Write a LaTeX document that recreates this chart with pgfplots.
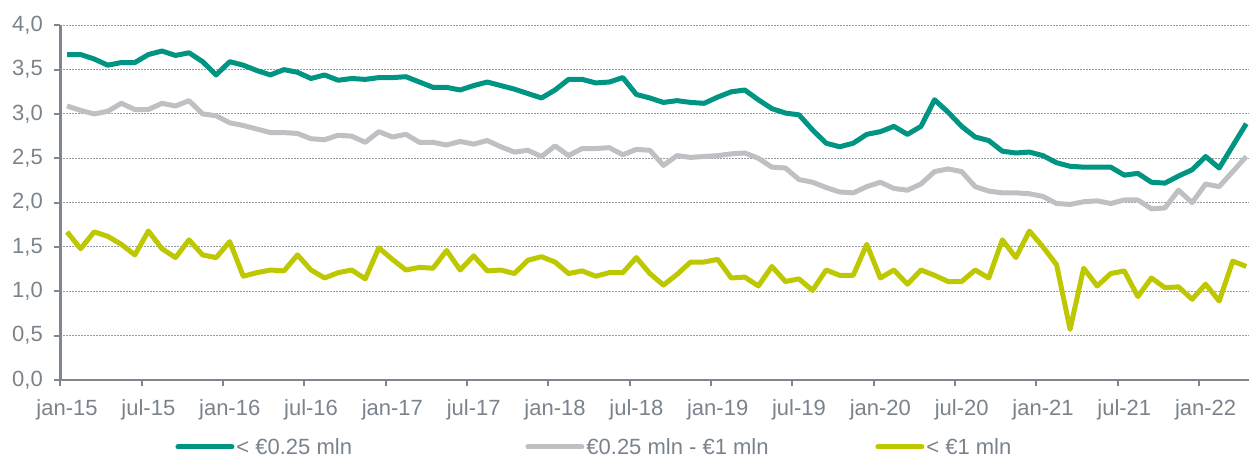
\documentclass[border=0pt]{standalone}
\usepackage{pgfplots}
\pgfplotsset{compat=1.18}
\usepackage{fontspec}
\setmainfont{Liberation Sans}
\definecolor{teal1}{RGB}{0,148,131}
\definecolor{gray1}{RGB}{190,192,195}
\definecolor{yel1}{RGB}{190,200,0}
\definecolor{txtgray}{RGB}{122,131,140}
\definecolor{axgray}{RGB}{128,134,141}
\definecolor{gridgray}{RGB}{150,156,162}
\begin{document}
\begin{tikzpicture}
\begin{axis}[
  scale only axis,
  width=1188.9pt, height=354.7pt,
  xmin=-0.5, xmax=87.2, ymin=0, ymax=4,
  axis lines*=left,
  axis line style={draw=axgray, line width=2.5pt},
  clip=true,
  ytick={0,0.5,...,4},
  ymajorgrids,
  grid style={draw=gridgray, line width=1pt, dash pattern=on 1.5pt off 1.5pt},
  xtick={-0.5,5.5,...,83.5},
  xticklabels={},
  extra x ticks={0,6,...,84},
  extra x tick labels={jan-15,jul-15,jan-16,jul-16,jan-17,jul-17,jan-18,jul-18,jan-19,jul-19,jan-20,jul-20,jan-21,jul-21,jan-22},
  extra x tick style={major tick length=0pt, grid=none},
  tick align=outside,
  major tick length=6pt,
  tick style={draw=axgray, line width=2pt},
  x tick label style={font=\fontsize{22}{26}\selectfont, text=txtgray, yshift=-16pt},
  y tick label style={font=\fontsize{22}{26}\selectfont, text=txtgray, xshift=-8pt},
  yticklabel style={/pgf/number format/.cd, fixed, fixed zerofill, precision=1, use comma, assume math mode=true},
  legend columns=3,
  legend style={draw=none, fill=none, at={(axis description cs:0,0)}, anchor=west,
    xshift=112pt, yshift=-67pt, font=\fontsize{22}{26}\selectfont, text=txtgray,
    /tikz/every even column/.append style={column sep=0pt}},
  legend cell align=left,
  legend image code/.code={\draw[#1, line cap=round] (0pt,0pt) -- (54pt,0pt);},
]
\addplot[teal1, line width=5pt, line join=round] coordinates {
(0,3.67)(1,3.67)(2,3.62)(3,3.55)(4,3.58)(5,3.58)(6,3.67)(7,3.71)(8,3.66)(9,3.69)
(10,3.59)(11,3.44)(12,3.59)(13,3.55)(14,3.49)(15,3.44)(16,3.50)(17,3.47)(18,3.40)(19,3.44)
(20,3.38)(21,3.40)(22,3.39)(23,3.41)(24,3.41)(25,3.42)(26,3.36)(27,3.30)(28,3.30)(29,3.27)
(30,3.32)(31,3.36)(32,3.32)(33,3.28)(34,3.23)(35,3.18)(36,3.27)(37,3.39)(38,3.39)(39,3.35)
(40,3.36)(41,3.41)(42,3.22)(43,3.18)(44,3.13)(45,3.15)(46,3.13)(47,3.12)(48,3.19)(49,3.25)
(50,3.27)(51,3.16)(52,3.06)(53,3.01)(54,2.99)(55,2.82)(56,2.67)(57,2.63)(58,2.67)(59,2.77)
(60,2.80)(61,2.86)(62,2.77)(63,2.86)(64,3.16)(65,3.02)(66,2.86)(67,2.74)(68,2.70)(69,2.58)
(70,2.56)(71,2.57)(72,2.53)(73,2.45)(74,2.41)(75,2.40)(76,2.40)(77,2.40)(78,2.31)(79,2.33)
(80,2.23)(81,2.22)(82,2.30)(83,2.37)(84,2.52)(85,2.39)(86,2.64)(87,2.89)
};
\addlegendentry{\makebox[287pt][l]{< €0.25 mln}}
\addplot[gray1, line width=5pt, line join=round] coordinates {
(0,3.09)(1,3.04)(2,3.00)(3,3.03)(4,3.12)(5,3.05)(6,3.05)(7,3.12)(8,3.09)(9,3.15)
(10,3.00)(11,2.98)(12,2.90)(13,2.87)(14,2.83)(15,2.79)(16,2.79)(17,2.78)(18,2.72)(19,2.71)
(20,2.76)(21,2.75)(22,2.68)(23,2.80)(24,2.74)(25,2.77)(26,2.68)(27,2.68)(28,2.65)(29,2.69)
(30,2.66)(31,2.70)(32,2.63)(33,2.57)(34,2.59)(35,2.52)(36,2.64)(37,2.53)(38,2.61)(39,2.61)
(40,2.62)(41,2.54)(42,2.60)(43,2.59)(44,2.42)(45,2.53)(46,2.51)(47,2.52)(48,2.53)(49,2.55)
(50,2.56)(51,2.50)(52,2.40)(53,2.39)(54,2.26)(55,2.23)(56,2.17)(57,2.12)(58,2.11)(59,2.18)
(60,2.23)(61,2.16)(62,2.14)(63,2.21)(64,2.35)(65,2.38)(66,2.35)(67,2.18)(68,2.13)(69,2.11)
(70,2.11)(71,2.10)(72,2.07)(73,1.99)(74,1.98)(75,2.01)(76,2.02)(77,1.99)(78,2.03)(79,2.03)
(80,1.93)(81,1.94)(82,2.14)(83,2.00)(84,2.21)(85,2.18)(86,2.35)(87,2.52)
};
\addlegendentry{\makebox[287pt][l]{€0.25 mln - €1 mln}}
\addplot[yel1, line width=5pt, line join=round,
  legend image code/.code={\draw[yel1, line width=5pt, line cap=round] (0pt,0pt) -- (44pt,0pt);}] coordinates {
(0,1.67)(1,1.48)(2,1.67)(3,1.62)(4,1.53)(5,1.41)(6,1.68)(7,1.48)(8,1.38)(9,1.58)
(10,1.41)(11,1.38)(12,1.56)(13,1.17)(14,1.21)(15,1.24)(16,1.23)(17,1.41)(18,1.24)(19,1.15)
(20,1.21)(21,1.24)(22,1.14)(23,1.49)(24,1.36)(25,1.24)(26,1.27)(27,1.26)(28,1.46)(29,1.24)
(30,1.40)(31,1.23)(32,1.24)(33,1.20)(34,1.35)(35,1.39)(36,1.33)(37,1.20)(38,1.23)(39,1.17)
(40,1.21)(41,1.21)(42,1.38)(43,1.20)(44,1.07)(45,1.19)(46,1.33)(47,1.33)(48,1.36)(49,1.15)
(50,1.16)(51,1.06)(52,1.28)(53,1.11)(54,1.14)(55,1.01)(56,1.24)(57,1.18)(58,1.18)(59,1.53)
(60,1.15)(61,1.24)(62,1.08)(63,1.24)(64,1.18)(65,1.11)(66,1.11)(67,1.24)(68,1.15)(69,1.58)
(70,1.38)(71,1.68)(72,1.50)(73,1.30)(74,0.57)(75,1.26)(76,1.06)(77,1.20)(78,1.23)(79,0.94)
(80,1.15)(81,1.04)(82,1.05)(83,0.91)(84,1.08)(85,0.89)(86,1.34)(87,1.28)
};
\addlegendentry{\makebox[200pt][l]{< €1 mln}}
\coordinate (bbsw) at (rel axis cs:0,0);
\coordinate (bbne) at (rel axis cs:1,1);
\end{axis}
\pgfresetboundingbox
\path[use as bounding box] ([shift={(-60.3pt,-77pt)}]bbsw) rectangle ([shift={(0pt,25.3pt)}]bbne);
\end{tikzpicture}
\end{document}
